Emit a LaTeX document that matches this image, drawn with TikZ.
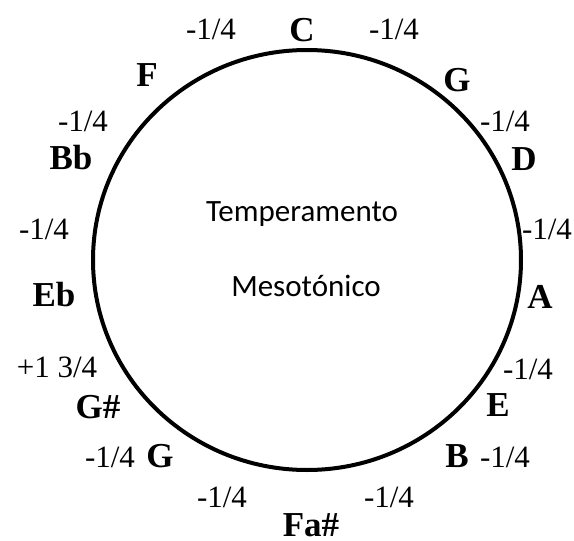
\documentclass[tikz,border=0pt]{standalone}
\usepackage{fontspec}
\setmainfont{Liberation Serif}
\newfontfamily\calibrifont{Carlito}
\usetikzlibrary{positioning}

\begin{document}
\begin{tikzpicture}[
		x=0.5pt, y=-0.5pt,
		note/.style={
				font=\fontsize{17.5}{20}\selectfont\bfseries,
				inner sep=0pt
			},
		cents/.style={
				font=\fontsize{15.5}{18}\selectfont,
				inner sep=0pt
			},
		title/.style={
				font=\calibrifont\fontsize{15.5}{18}\selectfont,
				inner sep=0pt
			}
	]
	\useasboundingbox (0,0) rectangle (574,541);

	% circle of fifths
	\draw[line width=2pt] (307,260) ellipse [x radius=214, y radius=210];

	\node[title] (t1) at (302,214) {Temperamento};
	\node[title] (t2) at (306,286) {Mesotónico};

	% notes
	\node[note] (nC)   at (302,30)  {C};
	\node[note] (nG)   at (457,80)  {G};
	\node[note] (nD)   at (524,159) {D};
	\node[note] (nA)   at (540,297) {A};
	\node[note] (nE)   at (498,405) {E};
	\node[note] (nB)   at (457,456) {B};
	\node[note] (nFs)  at (311,525) {Fa\#};
	\node[note] (nGl)  at (160,456) {G};
	\node[note] (nGs)  at (98,407)  {G\#};
	\node[note] (nEb)  at (54,295)  {Eb};
	\node[note] (nBb)  at (71,158)  {Bb};
	\node[note] (nF)   at (147,75)  {F};

	% deviations
	\node[cents] (w1)  at (394,29)  {-1/4};
	\node[cents] (w2)  at (505,121) {-1/4};
	\node[cents] (w3)  at (547,229) {-1/4};
	\node[cents] (w4)  at (528,369) {-1/4};
	\node[cents] (w5)  at (505,457) {-1/4};
	\node[cents] (w6)  at (389,497) {-1/4};
	\node[cents] (w7)  at (222,497) {-1/4};
	\node[cents] (w8)  at (110,457) {-1/4};
	\node[cents] (w9)  at (57,367)  {+1 3/4};
	\node[cents] (w10) at (44,229)  {-1/4};
	\node[cents] (w11) at (83,121)  {-1/4};
	\node[cents] (w12) at (211,29)  {-1/4};
\end{tikzpicture}
\end{document}
